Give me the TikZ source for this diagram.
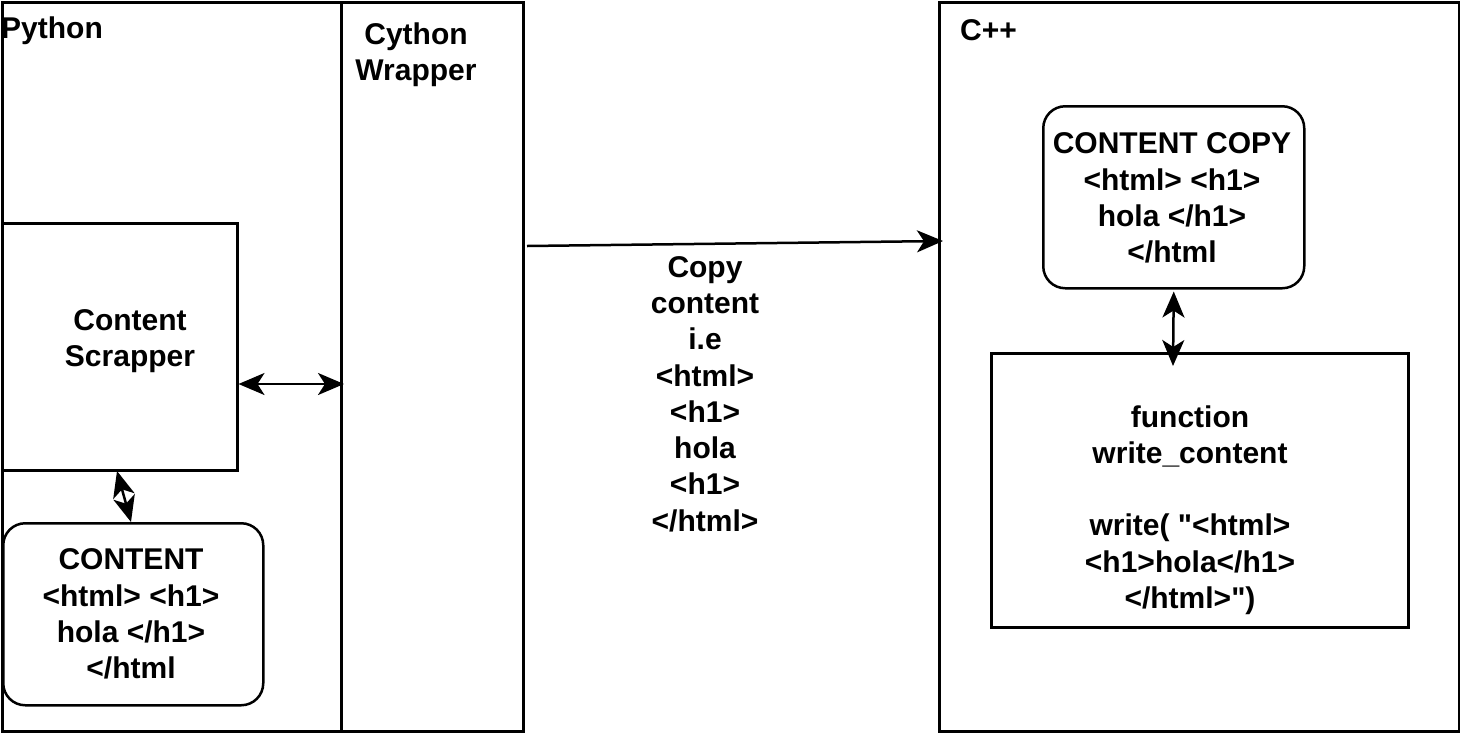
\documentclass[tikz,border=0pt]{standalone}
\usepackage{fontspec}
\setmainfont{Liberation Sans}[Ligatures=TeXOff]
\usetikzlibrary{arrows.meta}
\tikzset{
  box/.style={draw=black, line width=2.5pt, inner sep=0pt, anchor=north west},
  rbox/.style={box, rounded corners=22pt},
  txt/.style={font=\bfseries\fontsize{30}{36.3}\selectfont, align=center, inner sep=0pt},
  conn/.style={line width=2.5pt, {Stealth[length=26pt,width=22pt,inset=7pt]}-{Stealth[length=26pt,width=22pt,inset=7pt]}},
  oneway/.style={line width=2.5pt, -{Stealth[length=26pt,width=22pt,inset=7pt]}}
}
\begin{document}
\begin{tikzpicture}[x=1pt,y=-1pt]
\useasboundingbox (0,0) rectangle (1460,732);
% lanes
\node[box, minimum width=339pt, minimum height=729pt] (python) at (1,1) {};
\node[box, minimum width=182pt, minimum height=729pt] (wrap) at (340,1) {};
\node[box, minimum width=520pt, minimum height=729pt] (cpp) at (938,1) {};
\node[txt, anchor=north west] (pytitle) at (1,17) {Python};
\node[txt] (wraptitle) at (416,55) {Cython\\Wrapper};
\node[txt, anchor=north west] (cpptitle) at (960,19) {C++};
% python side
\node[box, minimum width=235pt, minimum height=247pt] (scr) at (1,222) {};
\node[txt] (scrtxt) at (130,341) {Content\\Scrapper};
\node[rbox, minimum width=260pt, minimum height=182pt] (content) at (2,522) {};
\node[txt] (contenttxt) at (131,614) {CONTENT\\\mbox{<html> <h1>}\\hola </h1>\\</html};
% c++ side
\node[rbox, minimum width=261pt, minimum height=182pt] (copy) at (1042,105) {};
\node[txt] (copytxt) at (1172,198) {CONTENT COPY\\\mbox{<html> <h1>}\\hola </h1>\\</html};
\node[box, minimum width=417pt, minimum height=274pt] (func) at (990,352) {};
\node[txt] (functxt) at (1190,510) {function\\write\_content\\[36.3pt]write( "<html>\\<h1>hola</h1>\\</html>")};
% label
\node[txt] (copylbl) at (705,394) {Copy\\content\\i.e\\<html>\\<h1>\\hola\\<h1>\\</html>};
% connectors
\coordinate (s1) at (scr.east |- 0,384);
\coordinate (s2) at (344,384);
\draw[conn] (s1) -- (s2);
\coordinate (c1) at (117,471);
\coordinate (c2) at (131,522);
\draw[conn] (c1) -- (c2);
\coordinate (a1) at (527,246);
\coordinate (a2) at (943,241);
\draw[oneway] (a1) -- (a2);
\coordinate (f1) at (1173,366);
\draw[conn] ([yshift=-2pt]copy.south) -- (f1);
\end{tikzpicture}
\end{document}
